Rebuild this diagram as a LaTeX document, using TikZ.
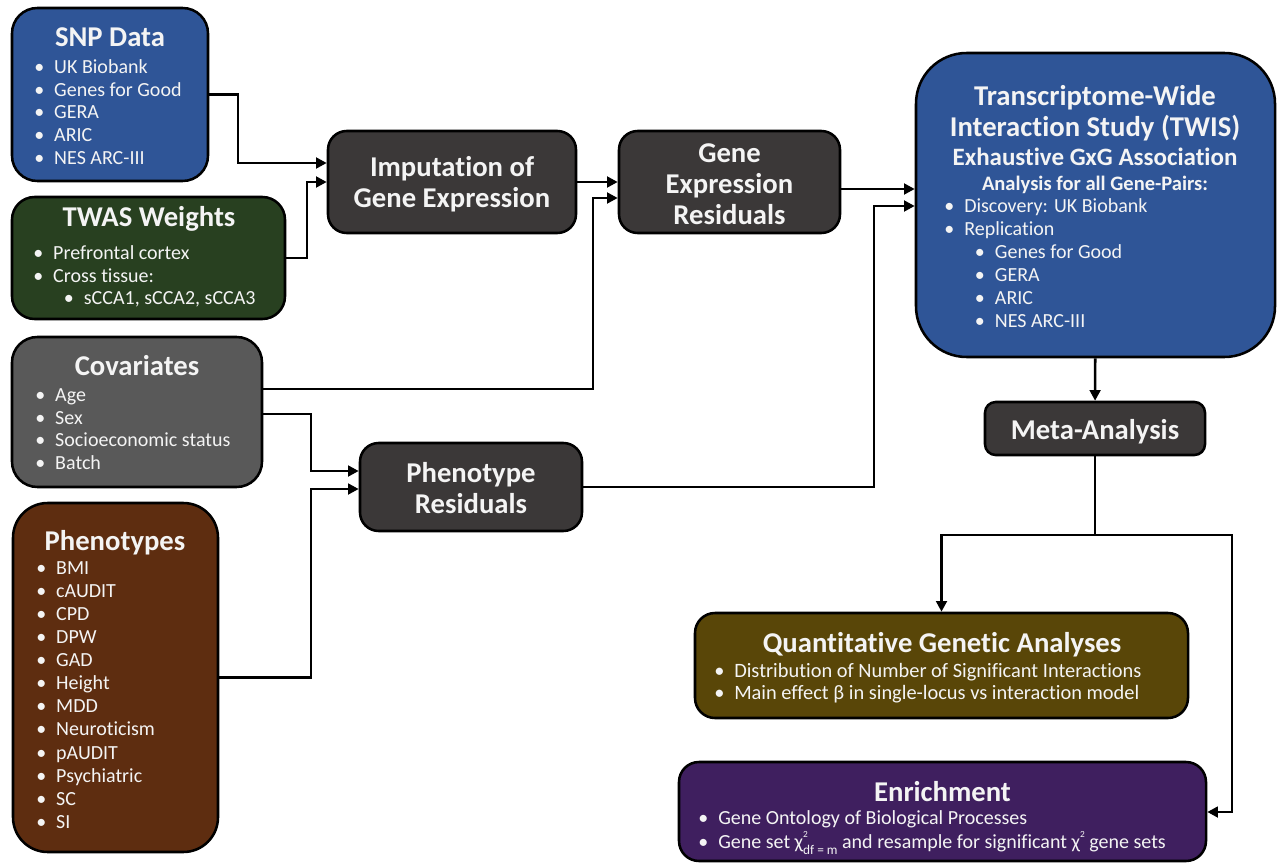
\documentclass[tikz,border=0pt]{standalone}
\usepackage{fontspec}
\setmainfont{Carlito}[Ligatures=NoCommon,RawFeature={-calt}]
\usetikzlibrary{fit,arrows.meta}
\definecolor{cblue}{HTML}{2F5597}
\definecolor{cgreen}{HTML}{284020}
\definecolor{cgray}{HTML}{595959}
\definecolor{cbrown}{HTML}{5E2D10}
\definecolor{cdark}{HTML}{3B3838}
\definecolor{colive}{HTML}{594608}
\definecolor{cpurple}{HTML}{3F1F5F}
\definecolor{ctext}{HTML}{F4F4F4}
\newcommand{\bul}{\makebox[15pt][l]{\textbullet}}
\newcommand{\sub}{\hspace*{23pt}}
\newcommand{\blist}[1]{\begin{tabular}[t]{@{}l@{}}#1\end{tabular}}
\newcommand{\clist}[1]{\begin{tabular}[t]{@{}c@{}}#1\end{tabular}}
\begin{document}
\begin{tikzpicture}[x=0.75pt,y=-0.75pt,
  box/.style={draw=black,line width=1.9pt,inner sep=0pt},
  ttl/.style={text=ctext,font=\bfseries\fontsize{21.5}{23.25}\selectfont,inner sep=0pt,anchor=base},
  lst/.style={text=ctext,font=\fontsize{15}{17}\selectfont,inner sep=0pt,anchor=base west},
  arr/.style={line width=2pt,-{Triangle[length=8pt,width=8pt]}},
  ln/.style={line width=2pt}]
\useasboundingbox (0,0) rectangle (1280,863);

% boxes
\node[box,fill=cblue,rounded corners=19pt,fit={(12,8) (208,181)}] (snp) {};
\node[box,fill=cgreen,rounded corners=17pt,fit={(12,197) (285,319)}] (twas) {};
\node[box,fill=cgray,rounded corners=19pt,fit={(12,337) (262,487)}] (cov) {};
\node[box,fill=cbrown,rounded corners=26pt,fit={(13,503) (218,852)}] (phe) {};
\node[box,fill=cdark,rounded corners=14pt,fit={(328,131) (576,233)}] (imp) {};
\node[box,fill=cdark,rounded corners=14pt,fit={(619,131) (840,233)}] (ger) {};
\node[box,fill=cdark,rounded corners=14pt,fit={(360,443) (582,531)}] (phr) {};
\node[box,fill=cblue,rounded corners=38pt,fit={(916,53) (1275,357)}] (twis) {};
\node[box,fill=cdark,rounded corners=8pt,fit={(985,402) (1205,455)}] (meta) {};
\node[box,fill=colive,rounded corners=15pt,fit={(695,613) (1188,718)}] (quant) {};
\node[box,fill=cpurple,rounded corners=15pt,fit={(679,762) (1206,861)}] (enr) {};

% texts
\node[ttl] (snpT) at (110,47) {SNP Data};
\node[lst] (snpL) at (34,73.5) {\blist{\bul UK Biobank\\ \bul Genes for Good\\ \bul GERA\\ \bul ARIC\\ \bul NES ARC-III}};
\node[ttl] (twasT) at (149,226) {TWAS Weights};
\node[lst] (twasL) at (33,259.5) {\blist{\bul Prefrontal cortex\\ \bul Cross tissue:\\ \sub\bul sCCA1, sCCA2, sCCA3}};
\node[ttl] (covT) at (137,375) {Covariates};
\node[lst] (covL) at (35,401.5) {\blist{\bul Age\\ \bul Sex\\ \bul Socioeconomic status\\ \bul Batch}};
\node[ttl] (pheT) at (115,550) {Phenotypes};
\node[lst,font=\fontsize{15}{17.3}\selectfont] (pheL) at (36,574.5) {\blist{\bul BMI\\ \bul cAUDIT\\ \bul CPD\\ \bul DPW\\ \bul GAD\\ \bul Height\\ \bul MDD\\ \bul Neuroticism\\ \bul pAUDIT\\ \bul Psychiatric\\ \bul SC\\ \bul SI}};
\node[ttl] (impT) at (452,176.5) {\clist{Imputation of\\Gene Expression}};
\node[ttl] (gerT) at (729.5,162) {\clist{Gene\\Expression\\Residuals}};
\node[ttl] (phrT) at (471,482) {\clist{Phenotype\\Residuals}};
\node[ttl] (twisT) at (1095,106) {\clist{Transcriptome-Wide\\Interaction Study (TWIS)}};
\node[ttl,font=\bfseries\fontsize{18.75}{20}\selectfont] (twisS) at (1095,166) {Exhaustive GxG Association};
\node[ttl,font=\bfseries\fontsize{15.4}{17}\selectfont] (twisA) at (1095,190.5) {Analysis for all Gene-Pairs:};
\node[lst,font=\fontsize{15}{17.25}\selectfont] (twisL) at (944,212.5) {\blist{\bul Discovery: UK Biobank\\ \bul Replication\\ \sub\bul Genes for Good\\ \sub\bul GERA\\ \sub\bul ARIC\\ \sub\bul NES ARC-III}};
\node[ttl] (metaT) at (1095,439) {Meta-Analysis};
\node[ttl] (quantT) at (942,652) {Quantitative Genetic Analyses};
\node[lst,font=\fontsize{15.3}{16.5}\selectfont] (quantL) at (714,677.5) {\blist{\bul Distribution of Number of Significant Interactions\\ \bul Main effect β in single-locus vs interaction model}};
\node[ttl] (enrT) at (942.5,801) {Enrichment};
\node[lst,font=\fontsize{15}{18}\selectfont] (enrL) at (698,824.5) {\blist{\bul Gene Ontology of Biological Processes\\ \bul Gene set χ\rlap{\raisebox{0.55em}{\fontsize{7}{7}\selectfont 2}}\raisebox{-0.3em}{\fontsize{10}{10}\selectfont df = m} and resample for significant χ\raisebox{0.55em}{\fontsize{7}{7}\selectfont 2} gene sets}};

% bend coordinates
\coordinate (k1) at (238,163);
\coordinate (k2) at (307,182);
\coordinate (k3) at (593,389);
\coordinate (k4) at (593,198);
\coordinate (k5) at (878,189);
\coordinate (k6) at (874,206);
\coordinate (k7) at (311,471);
\coordinate (k8) at (311,489);
\coordinate (k9) at (meta.south |- 0,535);
\coordinate (k10) at (1232,812);

% connectors
\draw[arr] (snp.east) -| (k1) -- (imp.west |- k1);
\draw[arr] (twas.east) -| (k2) -- (imp.west |- k2);
\draw[arr] (imp) -- (ger);
\draw[arr] (cov.east |- k3) -- (k3) -- (k4) -- (ger.west |- k4);
\draw[arr] (ger.east |- k5) -- (twis.west |- k5);
\draw[arr] (phr.east) -| (k6) -- (twis.west |- k6);
\draw[arr] (cov.east |- 0,414) -| (k7) -- (phr.west |- k7);
\draw[arr] (phe.east) -| (k8) -- (phr.west |- k8);
\draw[arr] (twis) -- (meta);
\draw[ln] (meta.south) -- (k9);
\draw[arr] (k9) -| (quant.north);
\draw[arr] (k9) -| (k10) -- (enr.east |- k10);
\end{tikzpicture}
\end{document}
